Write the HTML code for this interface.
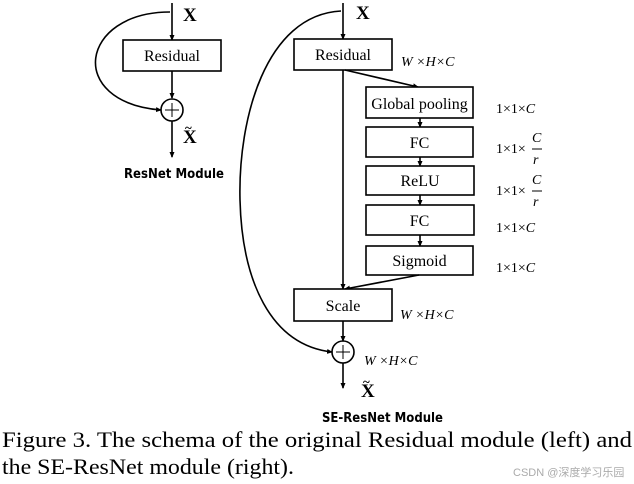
<!DOCTYPE html>
<html><head><meta charset="utf-8"><style>
html,body{margin:0;padding:0;background:#fff;}
svg{display:block;}
.s{font-family:"Liberation Serif",serif;}
.b{font-family:"DejaVu Sans","Liberation Sans",sans-serif;font-weight:bold;}
</style></head><body>
<svg width="634" height="484" viewBox="0 0 634 484" xmlns="http://www.w3.org/2000/svg">
<defs><marker id="a" markerWidth="6" markerHeight="6" refX="5" refY="3" orient="auto" markerUnits="userSpaceOnUse"><path d="M0,0.5 L6,3 L0,5.5 z" fill="#000"/></marker></defs>
<g stroke="#000" stroke-width="1.6" fill="none">
<line x1="172" y1="3" x2="172" y2="40" marker-end="url(#a)"/>
<rect x="123" y="40" width="98" height="31" fill="#fff"/>
<line x1="172" y1="71" x2="172" y2="98" marker-end="url(#a)"/>
<circle cx="172" cy="110" r="11"/>
<line x1="172" y1="121" x2="172" y2="157" marker-end="url(#a)"/>
<path d="M170,12 C80,12 65,102 161,110" marker-end="url(#a)"/>
<line x1="343" y1="3" x2="343" y2="39" marker-end="url(#a)"/>
<rect x="294" y="39" width="98" height="31" fill="#fff"/>
<line x1="343" y1="70" x2="343" y2="289" marker-end="url(#a)"/>
<line x1="345" y1="70" x2="418" y2="87" marker-end="url(#a)"/>
<rect x="366" y="87" width="107" height="31" fill="#fff"/>
<line x1="420" y1="118" x2="420" y2="127" marker-end="url(#a)"/>
<rect x="366" y="127" width="107" height="30" fill="#fff"/>
<line x1="420" y1="157" x2="420" y2="166" marker-end="url(#a)"/>
<rect x="366" y="166" width="108" height="29" fill="#fff"/>
<line x1="420" y1="195" x2="420" y2="205" marker-end="url(#a)"/>
<rect x="366" y="205" width="108" height="30" fill="#fff"/>
<line x1="420" y1="235" x2="420" y2="246" marker-end="url(#a)"/>
<rect x="366" y="246" width="107" height="29" fill="#fff"/>
<line x1="419" y1="275" x2="345" y2="289" marker-end="url(#a)"/>
<rect x="294" y="289" width="98" height="32" fill="#fff"/>
<line x1="343" y1="321" x2="343" y2="341" marker-end="url(#a)"/>
<circle cx="343" cy="352" r="11"/>
<line x1="343" y1="363" x2="343" y2="388" marker-end="url(#a)"/>
<path d="M341,11 C265,15 238,120 240,200 C242,280 270,345 332,352" marker-end="url(#a)"/>
</g>
<g stroke="#000" stroke-width="1">
<line x1="165" y1="110" x2="179" y2="110"/><line x1="172" y1="103" x2="172" y2="117"/>
<line x1="336" y1="352" x2="350" y2="352"/><line x1="343" y1="345" x2="343" y2="359"/>
</g>
<g class="s" font-size="16" text-anchor="middle">
<text x="172" y="61">Residual</text>
<text x="343" y="60">Residual</text>
<text x="419.5" y="109">Global pooling</text>
<text x="419.5" y="148">FC</text>
<text x="420" y="186">ReLU</text>
<text x="419.5" y="226">FC</text>
<text x="419.5" y="266">Sigmoid</text>
<text x="343" y="311">Scale</text>
</g>
<g class="s" font-weight="bold" font-size="19">
<text x="183" y="21">X</text>
<text x="183" y="143">X</text><text x="185" y="132" font-size="13">~</text>
<text x="356" y="19">X</text>
<text x="361" y="397">X</text><text x="363" y="386" font-size="13">~</text>
</g>
<g class="s" font-size="14" font-style="italic">
<text x="401" y="66">W ×H×C</text>
<text x="400" y="319">W ×H×C</text>
<text x="364" y="365">W ×H×C</text>
</g>
<g class="s" font-size="14">
<text x="496" y="113">1×1×<tspan font-style="italic">C</tspan></text>
<text x="496" y="153">1×1×</text>
<text x="532" y="142" font-style="italic">C</text><line x1="532" y1="149" x2="542" y2="149" stroke="#000"/><text x="533" y="164" font-style="italic">r</text>
<text x="496" y="195">1×1×</text>
<text x="532" y="184" font-style="italic">C</text><line x1="532" y1="191" x2="542" y2="191" stroke="#000"/><text x="533" y="206" font-style="italic">r</text>
<text x="496" y="232">1×1×<tspan font-style="italic">C</tspan></text>
<text x="496" y="272">1×1×<tspan font-style="italic">C</tspan></text>
</g>
<text class="b" x="124" y="178" font-size="13" textLength="100" lengthAdjust="spacingAndGlyphs">ResNet Module</text>
<text class="b" x="322" y="422" font-size="13" textLength="121" lengthAdjust="spacingAndGlyphs">SE-ResNet Module</text>
<text class="s" x="2" y="447" font-size="22" textLength="630" lengthAdjust="spacingAndGlyphs">Figure 3. The schema of the original Residual module (left) and</text>
<text class="s" x="2" y="474" font-size="22" textLength="292" lengthAdjust="spacingAndGlyphs">the SE-ResNet module (right).</text>
<text x="513" y="476" font-size="11" fill="#aaa" font-family="'Liberation Sans','Noto Sans CJK SC',sans-serif">CSDN @深度学习乐园</text>
</svg>
</body></html>
